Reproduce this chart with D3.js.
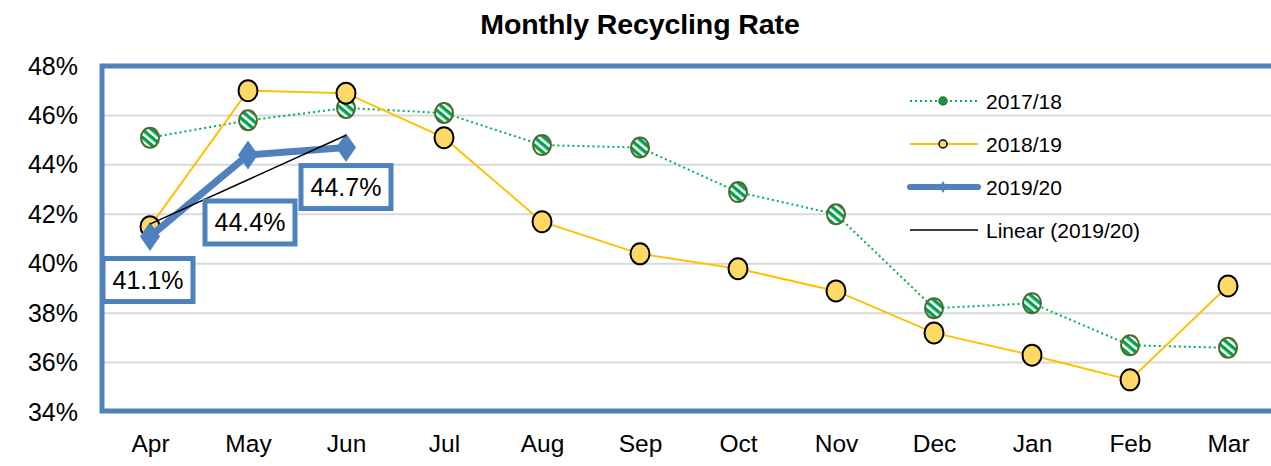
<!DOCTYPE html>
<html>
<head>
<meta charset="utf-8">
<script src="https://cdn.jsdelivr.net/npm/d3@7"></script>
<style>
  body { margin: 0; background: #fff; }
  svg { display: block; font-family: "Liberation Sans", Arial, sans-serif; }
</style>
</head>
<body>
<div id="chart"></div>
<script>
// data
var months = ['Apr', 'May', 'Jun', 'Jul', 'Aug', 'Sep', 'Oct', 'Nov', 'Dec', 'Jan', 'Feb', 'Mar']
var rate1718 = [45.1, 45.8, 46.3, 46.1, 44.8, 44.7, 42.9, 42.0, 38.2, 38.4, 36.7, 36.6]
var rate1819 = [41.5, 47.0, 46.9, 45.1, 41.7, 40.4, 39.8, 38.9, 37.2, 36.3, 35.3, 39.1]
var rate1920 = [41.1, 44.4, 44.7]
var yTicks = [34, 36, 38, 40, 42, 44, 46, 48]
var seriesNames = ['2017/18', '2018/19', '2019/20', 'Linear (2019/20)']

// label box offsets (dx, dy) from each 2019/20 point, moved by hand in the original
var labelOffsets = [[-2, 43], [2, 67], [0, 39]]

var width = 1271, height = 466
var pLeft = 101, pRight = 1277, pTop = 66, pBottom = 412

var svg = d3.select('#chart').append('svg')
    .attr('width', width).attr('height', height)

var defs = svg.append('defs')
var pat = defs.append('pattern')
    .attr('id', 'stripes')
    .attr('patternUnits', 'userSpaceOnUse')
    .attr('width', 6).attr('height', 6)
    .attr('patternTransform', 'rotate(40)')
pat.append('rect').attr('width', 6).attr('height', 6).attr('fill', '#fff')
pat.append('rect').attr('width', 6).attr('height', 3.4).attr('fill', '#00a24c')

var x = d3.scalePoint().domain(months).range([pLeft, pRight]).padding(0.5)
var y = d3.scaleLinear().domain([34, 48]).range([pBottom, pTop])

// title
svg.append('text')
    .attr('x', 640).attr('y', 34)
    .attr('text-anchor', 'middle')
    .style('font-size', '28.5px').style('font-weight', 'bold')
    .style('letter-spacing', '-0.1px')
    .text('Monthly Recycling Rate')

// gridlines
svg.append('g').selectAll('line')
    .data(yTicks.filter(function (d) { return d > 34 && d < 48 }))
    .enter().append('line')
    .attr('x1', pLeft).attr('x2', width)
    .attr('y1', function (d) { return y(d) }).attr('y2', function (d) { return y(d) })
    .attr('stroke', '#d9d9d9').attr('stroke-width', 2)

// y axis
var yAxis = svg.append('g')
    .attr('transform', 'translate(80,0)')
    .call(d3.axisLeft(y).tickValues(yTicks).tickSize(0).tickPadding(2)
        .tickFormat(function (d) { return d + '%' }))
yAxis.select('.domain').remove()
yAxis.selectAll('text').style('font-size', '25px').attr('fill', '#000')
    .attr('font-family', '"Liberation Sans", Arial, sans-serif')

// x axis
var xAxis = svg.append('g')
    .attr('transform', 'translate(0,' + 435 + ')')
    .call(d3.axisBottom(x).tickSize(0).tickPadding(0))
xAxis.select('.domain').remove()
xAxis.selectAll('text').style('font-size', '24.5px').attr('fill', '#000')
    .attr('font-family', '"Liberation Sans", Arial, sans-serif')

// plot border
svg.append('rect')
    .attr('x', pLeft + 1).attr('y', pTop)
    .attr('width', 1300).attr('height', pBottom - pTop - 1)
    .attr('fill', 'none').attr('stroke', '#4f81bd').attr('stroke-width', 5)

var line = d3.line()
    .x(function (d, i) { return x(months[i]) })
    .y(function (d) { return y(d) })

// 2017/18
svg.append('path').datum(rate1718)
    .attr('d', line).attr('fill', 'none')
    .attr('stroke', '#00b050').attr('stroke-width', 2)
    .attr('stroke-dasharray', '2,3')
svg.append('g').selectAll('ellipse')
    .data(rate1718).enter().append('ellipse')
    .attr('cx', function (d, i) { return x(months[i]) })
    .attr('cy', function (d) { return y(d) })
    .attr('rx', 9).attr('ry', 10)
    .attr('fill', 'url(#stripes)')
    .attr('stroke', '#4e6a2e').attr('stroke-width', 2)

// 2018/19
svg.append('path').datum(rate1819)
    .attr('d', line).attr('fill', 'none')
    .attr('stroke', '#ffc000').attr('stroke-width', 2)
svg.append('g').selectAll('ellipse')
    .data(rate1819).enter().append('ellipse')
    .attr('cx', function (d, i) { return x(months[i]) })
    .attr('cy', function (d) { return y(d) })
    .attr('rx', 9.5).attr('ry', 10.5)
    .attr('fill', '#ffd966')
    .attr('stroke', '#000').attr('stroke-width', 2)

// 2019/20
svg.append('path').datum(rate1920)
    .attr('d', line).attr('fill', 'none')
    .attr('stroke', '#4f81bd').attr('stroke-width', 7)
    .attr('stroke-linejoin', 'round')
var diamond = d3.symbol().type(d3.symbolDiamond).size(240)
svg.append('g').selectAll('path')
    .data(rate1920).enter().append('path')
    .attr('d', diamond)
    .attr('transform', function (d, i) { return 'translate(' + x(months[i]) + ',' + y(d) + ') scale(1.2,1)' })
    .attr('fill', '#4f81bd')

// linear trend of 2019/20 (least squares)
var n = rate1920.length
var mx = d3.mean(rate1920, function (d, i) { return i })
var my = d3.mean(rate1920)
var slope = d3.sum(rate1920, function (d, i) { return (i - mx) * (d - my) }) /
    d3.sum(rate1920, function (d, i) { return (i - mx) * (i - mx) })
var trend = rate1920.map(function (d, i) { return my + slope * (i - mx) })
svg.append('line')
    .attr('x1', x(months[0])).attr('y1', y(trend[0]))
    .attr('x2', x(months[n - 1])).attr('y2', y(trend[n - 1]))
    .attr('stroke', '#000').attr('stroke-width', 1.5)

// data labels
var lbl = svg.append('g').selectAll('g')
    .data(rate1920).enter().append('g')
    .attr('transform', function (d, i) {
        return 'translate(' + (x(months[i]) + labelOffsets[i][0]) + ',' + (y(d) + labelOffsets[i][1]) + ')'
    })
lbl.append('rect')
    .attr('x', -45).attr('y', -21).attr('width', 90).attr('height', 43)
    .attr('fill', '#fff').attr('stroke', '#4f81bd').attr('stroke-width', 5)
lbl.append('text')
    .attr('text-anchor', 'middle').attr('dy', '0.37em')
    .style('font-size', '25px')
    .text(function (d) { return d.toFixed(1) + '%' })

// legend
var legend = svg.append('g').attr('transform', 'translate(910,101)')
var rows = legend.selectAll('g').data(seriesNames).enter().append('g')
    .attr('transform', function (d, i) { return 'translate(0,' + (i * 43) + ')' })
rows.append('text').attr('x', 76).attr('dy', '0.36em')
    .style('font-size', '21px').text(function (d) { return d })
rows.each(function (d, i) {
    var g = d3.select(this)
    if (i === 0) {
        g.append('line').attr('x1', 0).attr('x2', 68)
            .attr('stroke', '#00b050').attr('stroke-width', 2).attr('stroke-dasharray', '2,3')
        g.append('circle').attr('cx', 33).attr('r', 4)
            .attr('fill', '#00a24c').attr('stroke', '#4e6a2e').attr('stroke-width', 1.5)
    } else if (i === 1) {
        g.append('line').attr('x1', 0).attr('x2', 68)
            .attr('stroke', '#ffc000').attr('stroke-width', 2)
        g.append('circle').attr('cx', 33).attr('r', 4)
            .attr('fill', '#ffd966').attr('stroke', '#000').attr('stroke-width', 1.5)
    } else if (i === 2) {
        g.append('line').attr('x1', 0).attr('x2', 68)
            .attr('stroke', '#4f81bd').attr('stroke-width', 6).attr('stroke-linecap', 'round')
        g.append('path').attr('d', d3.symbol().type(d3.symbolDiamond).size(40))
            .attr('transform', 'translate(33,0)').attr('fill', '#4f81bd')
    } else {
        g.append('line').attr('x1', 0).attr('x2', 68)
            .attr('stroke', '#000').attr('stroke-width', 1.5)
    }
})
</script>
</body>
</html>
